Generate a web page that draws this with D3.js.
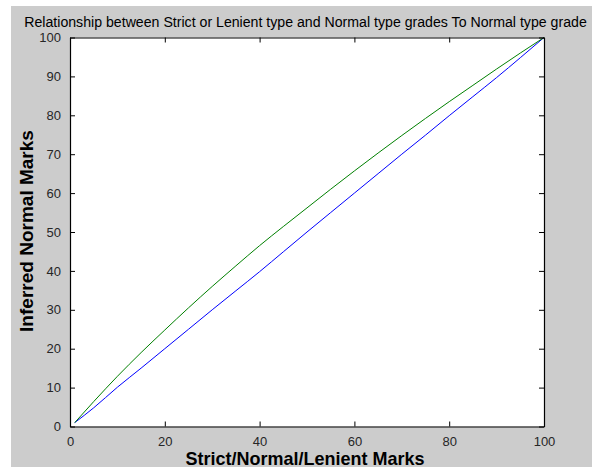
<!DOCTYPE html>
<html>
<head>
<meta charset="utf-8">
<script src="https://cdn.jsdelivr.net/npm/d3@7"></script>
<style>
  html, body { margin: 0; padding: 0; background: #ffffff; }
  svg { display: block; }
</style>
</head>
<body>
<svg id="chart" width="597" height="467"></svg>
<script>
// ---- data ----
const marks = [1, 5, 10, 15, 20, 25, 30, 35, 40, 45, 50, 55, 60, 65, 70, 75, 80, 85, 90, 95, 100];
const normalSeries = [1, 4.8, 10.1, 15.0, 20.0, 25.0, 30.0, 34.9, 39.8, 44.9, 50.0, 55.0, 60.0, 65.0, 70.0, 74.9, 79.9, 84.8, 89.7, 94.8, 100];
const inferredSeries = [1, 6.4, 12.9, 19.0, 24.8, 30.5, 36.0, 41.3, 46.5, 51.4, 56.2, 61.0, 65.7, 70.3, 74.8, 79.2, 83.5, 87.7, 91.9, 96.0, 100];
const xTicks = [0, 20, 40, 60, 80, 100];
const yTicks = [0, 10, 20, 30, 40, 50, 60, 70, 80, 90, 100];
const titleText = "Relationship between Strict or Lenient type and Normal type grades To Normal type grade";
const xLabelText = "Strict/Normal/Lenient Marks";
const yLabelText = "Inferred Normal Marks";

// ---- layout ----
const svg = d3.select("#chart");
const font = "'Liberation Sans', Arial, sans-serif";
const L = 70, R = 544, T = 37.5, B = 426.5;

svg.append("rect").attr("x", 11).attr("y", 6).attr("width", 581).attr("height", 461).attr("fill", "#cccccc");
svg.append("rect").attr("x", L).attr("y", T).attr("width", R - L).attr("height", B - T).attr("fill", "#ffffff");

const x = d3.scaleLinear().domain([0, 100]).range([L, R]);
const y = d3.scaleLinear().domain([0, 100]).range([B, T]);

// lines
const line = d3.line().x((d, i) => x(marks[i])).y(d => y(d)).curve(d3.curveMonotoneX);
svg.append("path").datum(normalSeries).attr("d", line)
  .attr("fill", "none").attr("stroke", "#0000ff").attr("stroke-width", 1);
svg.append("path").datum(inferredSeries).attr("d", line)
  .attr("fill", "none").attr("stroke", "#008000").attr("stroke-width", 1);

// axes (MATLAB style: ticks inward on all sides)
const tickLen = 5;
function styleAxis(g) {
  g.selectAll(".domain").attr("stroke", "#000").attr("stroke-width", 1.2);
  g.selectAll(".tick line").attr("stroke", "#000").attr("stroke-width", 1);
  g.selectAll(".tick text").attr("font-family", font).attr("font-size", 13).attr("fill", "#262626");
}
const gx = svg.append("g").attr("transform", `translate(0,${B})`)
  .call(d3.axisBottom(x).tickValues(xTicks).tickSizeInner(-tickLen).tickSizeOuter(0).tickPadding(10));
styleAxis(gx);
const gy = svg.append("g").attr("transform", `translate(${L},0)`)
  .call(d3.axisLeft(y).tickValues(yTicks).tickSizeInner(-tickLen).tickSizeOuter(0).tickPadding(9));
styleAxis(gy);
const gxTop = svg.append("g").attr("transform", `translate(0,${T})`)
  .call(d3.axisTop(x).tickValues(xTicks).tickSizeInner(-tickLen).tickSizeOuter(0).tickFormat(""));
styleAxis(gxTop);
const gyRight = svg.append("g").attr("transform", `translate(${R},0)`)
  .call(d3.axisRight(y).tickValues(yTicks).tickSizeInner(-tickLen).tickSizeOuter(0).tickFormat(""));
styleAxis(gyRight);

// fit text helper
function fitText(sel, target) {
  const w = sel.node().getComputedTextLength();
  const fs = parseFloat(sel.attr("font-size"));
  sel.attr("font-size", fs * target / w);
}

// title
const title = svg.append("text").attr("x", 305.5).attr("y", 26.5)
  .attr("text-anchor", "middle").attr("font-family", font).attr("font-size", 14)
  .attr("fill", "#000").text(titleText);
fitText(title, 563);

// x label
const xl = svg.append("text").attr("x", 305).attr("y", 464.5)
  .attr("text-anchor", "middle").attr("font-family", font).attr("font-size", 18)
  .attr("font-weight", "bold").attr("fill", "#000").text(xLabelText);
fitText(xl, 239);

// y label
const yl = svg.append("text").attr("transform", "translate(33,231) rotate(-90)")
  .attr("text-anchor", "middle").attr("font-family", font).attr("font-size", 18)
  .attr("font-weight", "bold").attr("fill", "#000").text(yLabelText);
fitText(yl, 202);
</script>
</body>
</html>
